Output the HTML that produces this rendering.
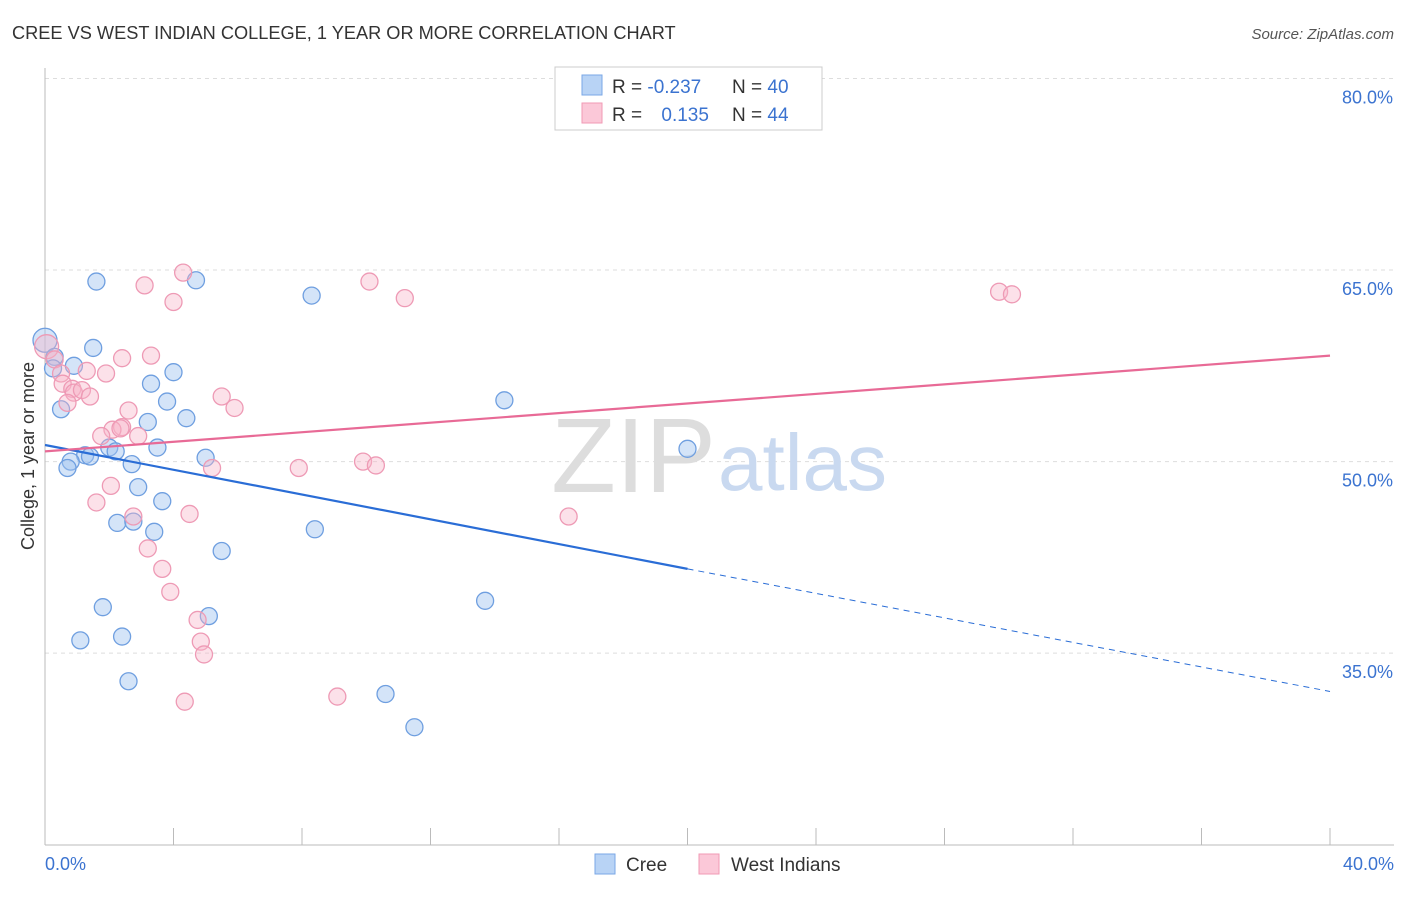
<!DOCTYPE html>
<html><head><meta charset="utf-8"><style>
body{margin:0;background:#fff;font-family:"Liberation Sans",sans-serif;}
svg text{font-family:"Liberation Sans",sans-serif;}
</style></head><body>
<svg id="c" width="1406" height="892" xmlns="http://www.w3.org/2000/svg">
<text x="12" y="39" font-size="18.2" fill="#333">CREE VS WEST INDIAN COLLEGE, 1 YEAR OR MORE CORRELATION CHART</text>
<text x="1394" y="39" font-size="15" fill="#555" font-style="italic" text-anchor="end">Source: ZipAtlas.com</text>
<g id="grid"></g>
<line x1="45" y1="68" x2="45" y2="845" stroke="#bbb"/>
<line x1="45" y1="845" x2="1394" y2="845" stroke="#bbb"/>
<text x="716" y="492" font-size="106" fill="#ddd" font-family="Liberation Serif" text-anchor="end">ZIP</text>
<text x="718" y="490" font-size="80" fill="#c9d9f0">atlas</text>
<text transform="translate(34,456) rotate(-90)" font-size="18" fill="#333" text-anchor="middle">College, 1 year or more</text>
<text x="45" y="870" font-size="18" fill="#3b73d0">0.0%</text>
<text x="1394" y="870" font-size="18" fill="#3b73d0" text-anchor="end">40.0%</text>
<g id="pts"></g>
<g id="lines"></g>
<rect x="555" y="67" width="267" height="63" fill="#fff" stroke="#ccc"/>
<rect x="582" y="75" width="20" height="20" fill="#b8d3f5" stroke="#7aa7e6"/>
<rect x="582" y="103" width="20" height="20" fill="#fbc8d8" stroke="#f09ab5"/>
<text x="612" y="93" font-size="19" fill="#333">R = <tspan fill="#3b73d0">-0.237</tspan></text>
<text x="732" y="93" font-size="19" fill="#333">N = <tspan fill="#3b73d0">40</tspan></text>
<text x="612" y="121" font-size="19" fill="#333">R = <tspan fill="#3b73d0" dx="14">0.135</tspan></text>
<text x="732" y="121" font-size="19" fill="#333">N = <tspan fill="#3b73d0">44</tspan></text>
<rect x="595" y="854" width="20" height="20" fill="#b8d3f5" stroke="#7aa7e6"/>
<text x="626" y="871" font-size="19" fill="#333">Cree</text>
<rect x="699" y="854" width="20" height="20" fill="#fbc8d8" stroke="#f09ab5"/>
<text x="731" y="871" font-size="19" fill="#333">West Indians</text>
</svg>
<script>
const yTicks=[80,65,50,35];
const xTickCount=[0,4,8,12,16,20,24,28,32,36,40];
const creeX=[1.6,4.7,8.3,0,0.3,1.5,0.9,0.25,3.3,4.0,3.8,0.5,4.4,3.2,14.3,3.5,2.0,2.2,1.25,1.4,0.8,0.7,5.0,2.7,20.0,2.9,3.65,2.25,2.75,3.4,8.4,5.5,1.8,5.1,13.7,1.1,2.4,2.6,10.6,11.5];
const creeY=[64.1,64.2,63.0,59.5,58.2,58.9,57.5,57.3,56.1,57.0,54.7,54.1,53.4,53.1,54.8,51.1,51.1,50.8,50.5,50.4,50.0,49.5,50.3,49.8,51.0,48.0,46.9,45.2,45.3,44.5,44.7,43.0,38.6,37.9,39.1,36.0,36.3,32.8,31.8,29.2];
const wiX=[4.3,3.1,4.0,10.1,11.2,29.7,30.1,0.05,0.3,0.5,2.4,3.3,1.9,1.3,0.55,0.85,0.9,1.15,1.4,0.7,5.5,5.9,2.6,2.4,2.1,1.75,2.9,2.35,7.9,9.9,10.3,5.2,2.05,1.6,4.5,2.75,16.3,3.2,3.65,3.9,4.75,4.85,4.95,9.1,4.35];
const wiY=[64.8,63.8,62.5,64.1,62.8,63.3,63.1,59.0,58.0,56.9,58.1,58.3,56.9,57.1,56.1,55.7,55.4,55.6,55.1,54.6,55.1,54.2,54.0,52.7,52.5,52.0,52.0,52.6,49.5,50.0,49.7,49.5,48.1,46.8,45.9,45.7,45.7,43.2,41.6,39.8,37.6,35.9,34.9,31.6,31.2];
const ns='http://www.w3.org/2000/svg';
const X=v=>45+v*32.125, Y=v=>78.5+(80-v)*12.77;
const grid=document.getElementById('grid');
yTicks.forEach(t=>{
 const l=document.createElementNS(ns,'line');
 l.setAttribute('x1',45);l.setAttribute('x2',1394);l.setAttribute('y1',Y(t));l.setAttribute('y2',Y(t));
 l.setAttribute('stroke','#ddd');l.setAttribute('stroke-dasharray','4,4');
 
 
 grid.appendChild(l);
 const tx=document.createElementNS(ns,'text');
 tx.setAttribute('x',1393);tx.setAttribute('y',Y(t)+25);tx.setAttribute('text-anchor','end');
 tx.setAttribute('font-size','18');tx.setAttribute('fill','#3b73d0');tx.textContent=t.toFixed(1)+'%';
 
 
 grid.appendChild(tx);
});
xTickCount.forEach(t=>{
 const l=document.createElementNS(ns,'line');
 l.setAttribute('x1',X(t));l.setAttribute('x2',X(t));l.setAttribute('y1',828);l.setAttribute('y2',845);
 l.setAttribute('stroke','#bbb');
 
 
 grid.appendChild(l);
});
const pts=document.getElementById('pts');
function dots(xs,ys,fill,stroke,name){
 xs.forEach((x,i)=>{
  const c=document.createElementNS(ns,'circle');
  c.setAttribute('cx',X(x));c.setAttribute('cy',Y(ys[i]));
  c.setAttribute('r',(x===0||x===0.05)?12:8.5);
  c.setAttribute('fill',fill);c.setAttribute('stroke',stroke);c.setAttribute('stroke-width','1.3');
  
  
  pts.appendChild(c);
 });
}
dots(creeX,creeY,'rgba(160,196,240,0.45)','#6f9fe0','cree-point');
dots(wiX,wiY,'rgba(248,180,200,0.4)','#ee9ab5','west-indians-point');
const lines=document.getElementById('lines');
function ln(x1,y1,x2,y2,col,dash,name){
 const l=document.createElementNS(ns,'line');
 l.setAttribute('x1',X(x1));l.setAttribute('y1',Y(y1));l.setAttribute('x2',X(x2));l.setAttribute('y2',Y(y2));
 l.setAttribute('stroke',col);l.setAttribute('stroke-width',dash?1:2.2);
 if(dash)l.setAttribute('stroke-dasharray','6,5');
 
 
 lines.appendChild(l);
}
ln(0,51.3,20,41.6,'#2a6dd6',false,'cree-trend-line');
ln(20,41.6,40,32.0,'#2a6dd6',true,'cree-trend-extension');
ln(0,50.8,40,58.3,'#e86a96',false,'west-indians-trend-line');
</script>
</body></html>
